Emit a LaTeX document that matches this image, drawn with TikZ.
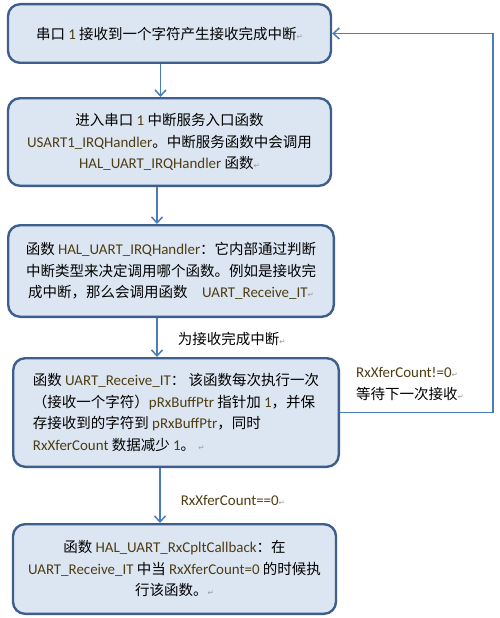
\documentclass[tikz,border=0pt]{standalone}
\usepackage{fontspec}
\setmainfont{Noto Sans CJK SC}
\newfontfamily\latinfont[Scale=1.03]{Carlito}
\newfontfamily\markfont{DejaVu Sans}
\usetikzlibrary{positioning,arrows.meta}
\definecolor{boxfill}{RGB}{220,230,242}
\definecolor{boxdraw}{RGB}{62,95,142}
\definecolor{linecol}{RGB}{74,126,187}
\definecolor{codecol}{RGB}{78,60,18}
\newcommand{\code}[1]{{\latinfont\color{codecol}#1}}
\newcommand{\pmark}{{\markfont\fontsize{7.5pt}{7.5pt}\selectfont\color{black!40}↵}}
\tikzset{
block/.style={
draw=boxdraw, fill=boxfill,
line width=2.4pt, rounded corners=12pt,
minimum width=323pt, align=center, inner sep=4pt},
line/.style={draw=linecol, line width=1.5pt, -{Straight Barb[length=6pt,width=11pt]}},
lbl/.style={inner sep=2pt},
font={\fontsize{14.5pt}{21.5pt}\selectfont}
}
\begin{document}
\begin{tikzpicture}[x=1pt,y=1pt]
  \useasboundingbox (0,0) rectangle (500,-618);
  \node[block, minimum height=58.6pt] (a) at (169.5,-33.5) {串口 \code{1} 接收到一个字符产生接收完成中断\pmark};
  \node[block, minimum height=87.6pt, below=33pt of a] (b) {进入串口 \code{1} 中断服务入口函数\\ \code{USART1\_IRQHandler}。中断服务函数中会调用\\ \code{HAL\_UART\_IRQHandler} 函数\pmark};
  \node[block, minimum width=325.6pt, minimum height=91.6pt, below=37pt of b, xshift=1.5pt] (c) {函数 \code{HAL\_UART\_IRQHandler}：它内部通过判断\\ 中断类型来决定调用哪个函数。例如是接收完\\ 成中断，那么会调用函数\quad\code{UART\_Receive\_IT}\pmark};
  \node[block, minimum width=325.6pt, minimum height=108.6pt, align=left, below=39pt of c, xshift=5pt] (d) {函数 \code{UART\_Receive\_IT}： 该函数每次执行一次\\ （接收一个字符）\code{pRxBuffPtr} 指针加 \code{1}，并保\\ 存接收到的字符到 \code{pRxBuffPtr}，同时\\ \code{RxXferCount} 数据减少 \code{1}。 \pmark};
  \node[block, minimum height=89.6pt, below=55pt of d, xshift=-1.5pt] (e) {函数 \code{HAL\_UART\_RxCpltCallback}：在\\ \code{UART\_Receive\_IT} 中当 \code{RxXferCount=0} 的时候执\\ 行该函数。\pmark};
  \draw[line] ([xshift=-9pt]a.south) -- ([xshift=-9pt]a.south |- b.north);
  \draw[line] ([xshift=-12.5pt]b.south) -- ([xshift=-12.5pt]b.south |- c.north);
  \draw[line] ([xshift=-14pt]c.south) -- ([xshift=-14pt]c.south |- d.north) node[lbl, pos=0.54, right=18pt] {为接收完成中断\pmark};
  \draw[line] ([xshift=-16pt]d.south) -- ([xshift=-16pt]d.south |- e.north) node[lbl, pos=0.59, right=18pt] {\code{RxXferCount==0}\pmark};
  % loop back to the first box
  \draw[line] (d.east) -- ++(153,0) |- (a.east);
  \node[lbl, align=left, anchor=south west] (wait) at ([xshift=14pt,yshift=10pt]d.east) {\code{RxXferCount!=0}\pmark\\ 等待下一次接收\pmark};
\end{tikzpicture}
\end{document}
